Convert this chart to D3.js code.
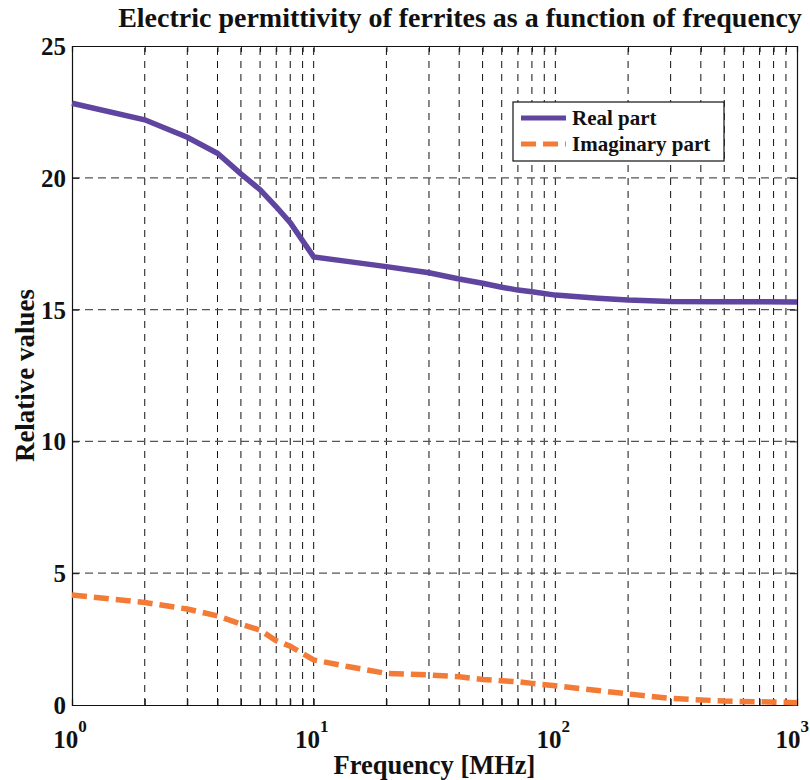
<!DOCTYPE html>
<html>
<head>
<meta charset="utf-8">
<script src="https://cdn.jsdelivr.net/npm/d3@7"></script>
<style>
  body { margin: 0; background: #fff; }
  svg text { font-family: "Liberation Serif", "DejaVu Serif", serif; font-weight: bold; fill: #111; }
</style>
</head>
<body>
<svg id="chart" width="810" height="780"></svg>
<script>
'use strict';

// frequency points in MHz
const freqs = [1, 2, 3, 4, 5, 6, 7, 8, 10, 14, 20, 30, 40, 50, 60, 70, 80, 100, 150, 200, 300, 500, 1000];
const realPart = [22.83, 22.2, 21.54, 20.93, 20.15, 19.55, 18.9, 18.3, 17.0, 16.82, 16.63, 16.4, 16.16, 16.0, 15.85, 15.74, 15.68, 15.55, 15.43, 15.36, 15.31, 15.3, 15.29];
const imagPart = [4.17, 3.89, 3.64, 3.38, 3.07, 2.84, 2.44, 2.23, 1.71, 1.45, 1.2, 1.14, 1.07, 0.97, 0.92, 0.88, 0.82, 0.73, 0.55, 0.42, 0.25, 0.15, 0.09];
const yTicks = [0, 5, 10, 15, 20, 25];
const decades = [1, 10, 100, 1000];
const seriesNames = ['Real part', 'Imaginary part'];

const margin = { left: 72, right: 13, top: 46, bottom: 75 };
const width = 810, height = 780;

const svg = d3.select('#chart');

const x = d3.scaleLog()
  .domain([1, 1000])
  .range([margin.left, width - margin.right]);

const y = d3.scaleLinear()
  .domain([0, 25])
  .range([height - margin.bottom, margin.top]);

// all grid positions (1..9 in each decade)
const gridX = [];
decades.slice(0, 3).forEach(d => {
  for (let k = 1; k < 10; k++) gridX.push(d * k);
});
gridX.push(1000);

const grid = svg.append('g');
grid.selectAll('.vgrid')
  .data(gridX.filter(v => v > 1 && v < 1000))
  .enter()
  .append('line')
  .attr('x1', d => x(d)).attr('x2', d => x(d))
  .attr('y1', y(0)).attr('y2', y(25))
  .attr('stroke', '#111')
  .attr('stroke-width', 1)
  .attr('stroke-dasharray', '7,6');

grid.selectAll('.hgrid')
  .data(yTicks.filter(v => v > 0 && v < 25))
  .enter()
  .append('line')
  .attr('x1', x(1)).attr('x2', x(1000))
  .attr('y1', d => y(d)).attr('y2', d => y(d))
  .attr('stroke', '#555')
  .attr('stroke-width', 1.3)
  .attr('stroke-dasharray', '8,5');

// axes: inward ticks
const axisBottom = d3.axisBottom(x).tickValues(gridX).tickSize(-6).tickFormat('');
const axisTop = d3.axisTop(x).tickValues(gridX).tickSize(-6).tickFormat('');
const axisLeft = d3.axisLeft(y).tickValues(yTicks).tickSize(-7).tickFormat('');
const axisRight = d3.axisRight(y).tickValues(yTicks).tickSize(-7).tickFormat('');

[[axisBottom, `translate(0,${y(0)})`], [axisTop, `translate(0,${y(25)})`],
 [axisLeft, `translate(${x(1)},0)`], [axisRight, `translate(${x(1000)},0)`]].forEach(([ax, tr]) => {
  const g = svg.append('g').attr('transform', tr).call(ax);
  g.select('.domain').attr('stroke', '#111').attr('stroke-width', 1.2);
  g.selectAll('.tick line').attr('stroke', '#111');
});

// y tick labels
svg.append('g').selectAll('text')
  .data(yTicks)
  .enter()
  .append('text')
  .attr('x', x(1) - 6)
  .attr('y', d => y(d) + 9)
  .attr('text-anchor', 'end')
  .attr('font-size', 25)
  .text(d => d);

// x tick labels 10^n (last one kept inside the page)
const xl = svg.append('g').selectAll('text')
  .data(decades)
  .enter()
  .append('text')
  .attr('x', d => d === 1000 ? width - 1 : x(d) - 2)
  .attr('y', y(0) + 43)
  .attr('text-anchor', d => d === 1000 ? 'end' : 'middle')
  .attr('font-size', 25);
xl.append('tspan').text('10');
xl.append('tspan')
  .attr('dy', -16)
  .attr('font-size', 17)
  .text(d => Math.round(Math.log10(d)));

// lines
const line = d3.line()
  .x((d, i) => x(freqs[i]))
  .y(d => y(d));

svg.append('path')
  .datum(imagPart)
  .attr('d', line)
  .attr('fill', 'none')
  .attr('stroke', '#f47b36')
  .attr('stroke-width', 5.5)
  .attr('stroke-dasharray', '15,7');

svg.append('path')
  .datum(realPart)
  .attr('d', line)
  .attr('fill', 'none')
  .attr('stroke', '#5f44a0')
  .attr('stroke-width', 5.5);

// legend
const legend = svg.append('g').attr('transform', 'translate(513,102)');
legend.append('rect')
  .attr('width', 211).attr('height', 59)
  .attr('fill', '#fff').attr('stroke', '#111').attr('stroke-width', 1.2);
const legendColors = ['#5f44a0', '#f47b36'];
seriesNames.forEach((name, i) => {
  const ly = 16 + i * 26;
  legend.append('line')
    .attr('x1', 8).attr('x2', 53)
    .attr('y1', ly).attr('y2', ly)
    .attr('stroke', legendColors[i])
    .attr('stroke-width', 5)
    .attr('stroke-dasharray', i === 1 ? '15,7' : null);
  legend.append('text')
    .attr('x', 59).attr('y', ly + 7)
    .attr('font-size', 21)
    .text(name);
});

// titles
svg.append('text')
  .attr('x', 460).attr('y', 27)
  .attr('text-anchor', 'middle')
  .attr('font-size', 28)
  .text('Electric permittivity of ferrites as a function of frequency');

svg.append('text')
  .attr('x', (x(1) + x(1000)) / 2).attr('y', 774)
  .attr('text-anchor', 'middle')
  .attr('font-size', 26.5)
  .text('Frequency [MHz]');

svg.append('text')
  .attr('transform', `translate(34,${(y(0) + y(25)) / 2}) rotate(-90)`)
  .attr('text-anchor', 'middle')
  .attr('font-size', 27)
  .text('Relative values');
</script>
</body>
</html>
